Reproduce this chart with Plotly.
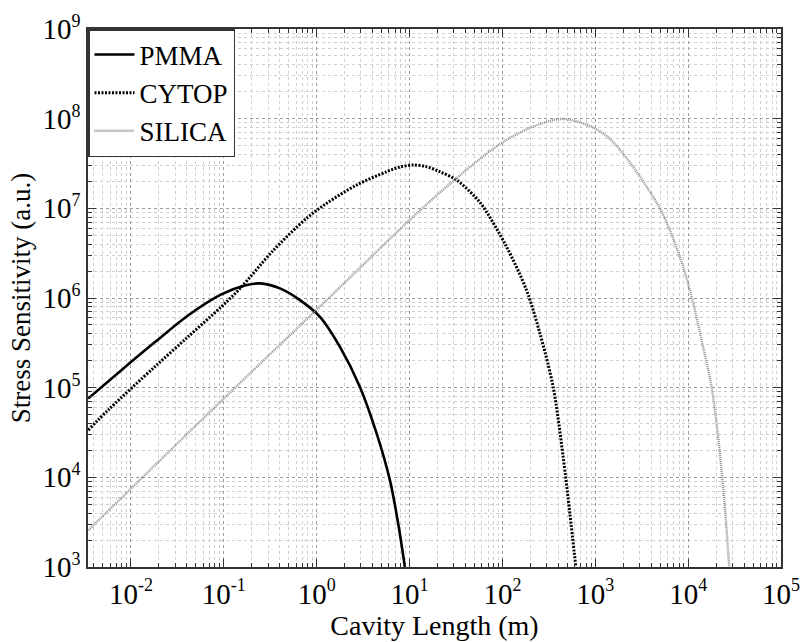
import plotly.graph_objects as go

# Values
pmma_x = [0.00346, 0.00789, 0.01803, 0.0412, 0.0940, 0.168, 0.245, 0.403, 0.661, 1.086, 1.782, 2.924, 4.43, 6.15, 7.55, 8.91]
pmma_y = [7.57e4, 1.567e5, 3.2e5, 6.38e5, 1.096e6, 1.38e6, 1.455e6, 1.279e6, 9.48e5, 6.17e5, 2.85e5, 1.02e5, 3.08e4, 9.3e3, 3.05e3, 1.0e3]

cytop_x = [0.00346, 0.00592, 0.01803, 0.0412, 0.0940, 0.1493, 0.341, 0.780, 1.282, 2.698, 5.675, 7.94, 10.96, 15.1, 21.2, 32.1, 50.6, 62.2, 110.9, 182, 253.5, 352, 451, 533, 618]
cytop_y = [3.36e4, 5.86e4, 1.706e5, 3.69e5, 7.98e5, 1.274e6, 3.39e6, 7.76e6, 1.138e7, 1.82e7, 2.56e7, 2.90e7, 3.04e7, 2.92e7, 2.56e7, 2.07e7, 1.35e7, 1.04e7, 3.72e6, 1.22e6, 4.03e5, 1.02e5, 1.69e4, 3.94e3, 1.0e3]

silica_x = [0.00348, 0.0741, 1.227, 18.0, 94, 215, 442, 912, 1380, 2173, 4955, 8147, 1.089e4, 1.449e4, 1.786e4, 2.104e4, 2.483e4, 2.767e4]
silica_y = [2.57e3, 5.61e4, 9.08e5, 1.29e7, 5.19e7, 8.15e7, 9.93e7, 8.13e7, 6.17e7, 3.63e7, 1.0e7, 2.88e6, 1.03e6, 2.85e5, 1.02e5, 2.82e4, 4.68e3, 1.0e3]

x_tick_vals = [1e-2, 1e-1, 1e0, 1e1, 1e2, 1e3, 1e4, 1e5]
x_tick_exp = ["-2", "-1", "0", "1", "2", "3", "4", "5"]
y_tick_vals = [1e3, 1e4, 1e5, 1e6, 1e7, 1e8, 1e9]
y_tick_exp = ["3", "4", "5", "6", "7", "8", "9"]


def power_label(e):
    return '10<sup><span style="font-size:18px">' + e + '</span></sup>'


FONT = "Liberation Serif, Times New Roman, serif"

fig = go.Figure()
fig.add_trace(go.Scatter(x=pmma_x, y=pmma_y, mode="lines", name="PMMA",
                         line=dict(color="black", width=2.6, shape="spline", smoothing=0.9)))
fig.add_trace(go.Scatter(x=cytop_x, y=cytop_y, mode="lines", name="CYTOP",
                         line=dict(color="black", width=3, dash="2px,1.5px", shape="spline", smoothing=0.9)))
fig.add_trace(go.Scatter(x=silica_x, y=silica_y, mode="lines", name="SILICA",
                         line=dict(color="#8f8f8f", width=2.4, dash="1px,1px", shape="spline", smoothing=0.9)))

axis_common = dict(
    type="log", automargin=False,
    showline=True, linecolor="#333333", linewidth=1.5, mirror="allticks",
    ticks="inside", ticklen=8, tickcolor="#333333", tickwidth=1,
    showgrid=True, gridcolor="#9a9a9a", griddash="dot", gridwidth=1,
    zeroline=False,
    tickfont=dict(family=FONT, size=29, color="black"),
    minor=dict(ticks="inside", ticklen=4, tickcolor="#333333", dtick="D1",
               showgrid=True, gridcolor="#cfcfcf", griddash="dot", gridwidth=1),
)

fig.update_xaxes(**axis_common, range=[-2.462, 5], dtick=1,
                 tickvals=x_tick_vals, ticktext=[power_label(e) for e in x_tick_exp],
                 title=dict(text="Cavity Length (m)", font=dict(family=FONT, size=28, color="black"),
                            standoff=2))
fig.update_yaxes(**axis_common, range=[3, 9], dtick=1,
                 tickvals=y_tick_vals, ticktext=[power_label(e) for e in y_tick_exp],
                 title=dict(text="Stress Sensitivity (a.u.)", font=dict(family=FONT, size=27, color="black"),
                            standoff=4))

fig.update_layout(
    width=803, height=642,
    margin=dict(l=88, r=22, t=29, b=75),
    paper_bgcolor="white", plot_bgcolor="white",
    showlegend=True,
    legend=dict(x=0, y=1, xanchor="left", yanchor="top",
                bgcolor="white", bordercolor="#333333", borderwidth=1.5,
                font=dict(family=FONT, size=27, color="black"),
                tracegroupgap=0, itemwidth=40),
)

fig.write_html("out.html", config={"displayModeBar": False},
               post_script="document.body.style.margin='0px';document.body.style.overflow='hidden';")
